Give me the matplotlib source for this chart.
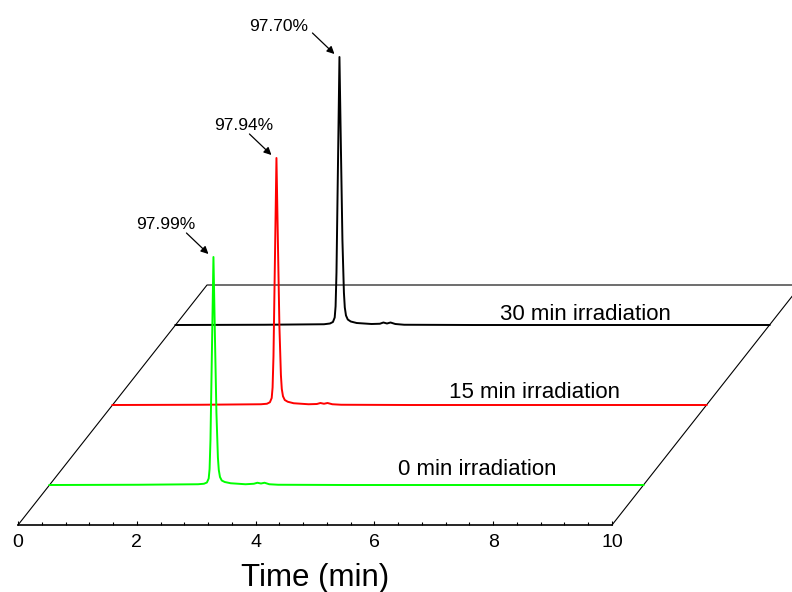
import numpy as np
import matplotlib.pyplot as plt
from matplotlib.ticker import MultipleLocator
from matplotlib.transforms import offset_copy

plt.rcParams['font.family'] = ['Liberation Sans', 'DejaVu Sans']

# retention time (min) shared by the three chromatograms
time_min = [0, 1.5, 2.50, 2.60, 2.65, 2.68, 2.695, 2.71, 2.735, 2.76, 2.785, 2.81,
            2.835, 2.85, 2.87, 2.90, 2.95, 3.05, 3.30, 3.44, 3.50, 3.56, 3.62,
            3.70, 3.85, 5.0, 10.0]

# detector signal (a.u.)
signal_0min = [0, 1, 3, 5, 10, 26, 64, 180, 545, 912, 595, 290,
               110, 60, 32, 18, 12, 7, 3, 5, 9, 6, 9,
               3, 1, 0, 0]
signal_15min = [0, 1, 3, 5, 11, 28, 70, 195, 590, 988, 645, 313,
                120, 64, 35, 20, 13, 7, 3, 4, 8, 5, 8,
                3, 1, 0, 0]
signal_30min = [0, 1, 3, 6, 12, 30, 75, 210, 640, 1072, 700, 340,
                130, 70, 38, 22, 14, 8, 4, 5, 10, 6, 10,
                4, 1, 0, 0]

series = [signal_0min, signal_15min, signal_30min]
series_labels = ['0 min irradiation', '15 min irradiation', '30 min irradiation']
purity_labels = ['97.99%', '97.94%', '97.70%']
peak_time = 2.76

# layout
colors = ['#00ff00', '#ff0000', 'black']
depth_frac = [1 / 6, 1 / 2, 5 / 6]
floor_dx, floor_dy = 3.182, 960
name_x = [7.20, 7.11, 6.90]
name_gap = [40, 29, 20]
purity_offset = [(-48, 28), (-33, 28), (-61, 26)]

fig = plt.figure(figsize=(7.92, 5.92), dpi=100)
ax = fig.add_axes([18 / 792, 67 / 592, 594 / 792, 525 / 592])
ax.set_xlim(0, 10)
ax.set_ylim(0, 2100)

for side in ['left', 'right', 'top']:
    ax.spines[side].set_visible(False)
ax.spines['bottom'].set_linewidth(1.2)
ax.set_yticks([])
ax.xaxis.set_major_locator(MultipleLocator(2))
ax.xaxis.set_minor_locator(MultipleLocator(0.4))
ax.tick_params(axis='x', which='both', direction='in', width=0.8, pad=6.5, labelsize=14)
ax.tick_params(axis='x', which='major', length=3)
ax.tick_params(axis='x', which='minor', length=2)
ax.set_xlabel('Time (min)', fontsize=22.5, labelpad=8.5)

# floor of the waterfall
ax.plot([0, floor_dx, 10 + floor_dx, 10], [0, floor_dy, floor_dy, 0],
        color='black', lw=0.8, clip_on=False)

# back to front
for i in [2, 1, 0]:
    dx = depth_frac[i] * floor_dx
    dy = depth_frac[i] * floor_dy
    t = np.array(time_min) + dx
    s = np.array(series[i]) + dy
    ax.plot(t, s, color=colors[i], lw=1.4, clip_on=False)
    ax.text(name_x[i] + dx, dy + name_gap[i], series_labels[i],
            ha='center', va='baseline', fontsize=16)

    top = (peak_time + dx, max(series[i]) + dy)
    tip_tr = offset_copy(ax.transData, fig=fig, x=-5, y=3, units='dots')
    ax.annotate('', xy=top, xycoords=tip_tr, xytext=(-22, 21),
                textcoords='offset pixels',
                arrowprops=dict(arrowstyle='-|>', color='black', lw=0.9,
                                mutation_scale=11, shrinkA=0, shrinkB=0),
                annotation_clip=False)
    ax.annotate(purity_labels[i], xy=top, xytext=purity_offset[i],
                textcoords='offset pixels', ha='center', va='baseline',
                fontsize=12.5, annotation_clip=False)

plt.savefig('out.png', dpi=100)
